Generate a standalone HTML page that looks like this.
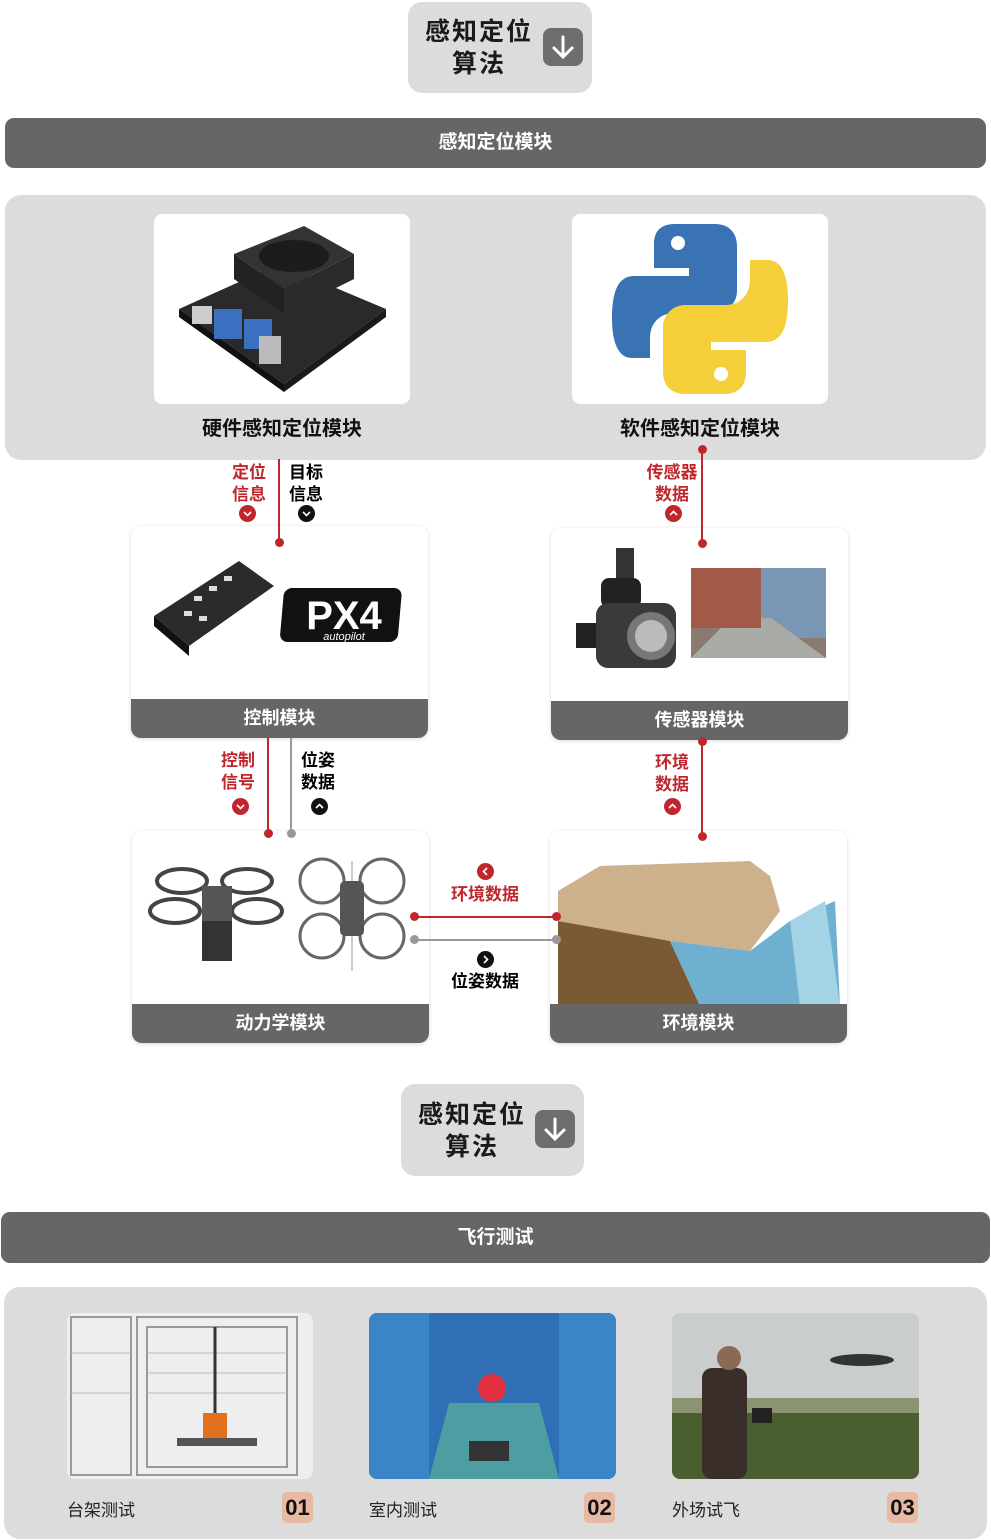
<!DOCTYPE html>
<html><head><meta charset="utf-8"><style>
*{margin:0;padding:0;box-sizing:border-box}
body{width:991px;height:1540px;background:#fff;position:relative;overflow:hidden;font-family:"Liberation Sans","Noto Sans CJK SC",sans-serif}
.a{position:absolute}
.z{z-index:5}
.btn{background:#dcdcdc;border-radius:14px}
.btn .t{position:absolute;font-size:25px;font-weight:bold;line-height:32px;text-align:center;letter-spacing:2px;color:#1a1a1a}
.btn .i{position:absolute;width:40px;height:38px;background:#6e6e6e;border-radius:8px}
.bar{background:#666;border-radius:9px;color:#fff;font-weight:bold;font-size:19px;text-align:center}
.panel{background:#dcdcdc;border-radius:16px}
.card{background:#fff;border-radius:10px;overflow:hidden;box-shadow:0 1px 4px rgba(0,0,0,.15)}
.card .f{position:absolute;left:0;right:0;bottom:0;height:39px;background:#666;color:#fff;font-weight:bold;font-size:18px;line-height:39px;text-align:center}
.lbl{font-size:17px;font-weight:bold;line-height:22px}
.red{color:#c0272d}
.dot{width:9px;height:9px;border-radius:50%}
.cap{font-size:20px;font-weight:bold;text-align:center;color:#111}
.num{width:31px;height:31px;background:#e8b9a3;border-radius:5px;font-size:22px;font-weight:bold;text-align:center;line-height:31px;color:#111}
.pic{border-radius:8px;overflow:hidden}
</style></head><body>

<div class="a btn" style="left:408px;top:2px;width:184px;height:91px">
 <div class="t" style="left:6px;top:14px;width:130px">感知定位<br>算法</div>
 <div class="i" style="left:135px;top:26px"><svg width="40" height="38"><path d="M20 9V28M11 20L20 29L29 20" stroke="#fff" stroke-width="3" fill="none" stroke-linecap="round"/></svg></div>
</div>
<div class="a bar" style="left:5px;top:118px;width:981px;height:50px;line-height:50px">感知定位模块</div>

<div class="a panel" style="left:5px;top:195px;width:981px;height:265px"></div>
<div class="a pic" style="left:154px;top:214px;width:256px;height:190px;background:#fff">
 <svg width="256" height="190"><polygon points="25,95 125,50 232,95 130,170" fill="#2a2a2a"/><polygon points="25,95 130,170 130,178 25,103" fill="#111"/><polygon points="130,170 232,95 232,103 130,178" fill="#1a1a1a"/><polygon points="80,40 150,12 200,40 130,75" fill="#333"/><polygon points="80,40 130,75 130,100 80,65" fill="#222"/><polygon points="130,75 200,40 200,65 130,100" fill="#2b2b2b"/><ellipse cx="140" cy="42" rx="35" ry="16" fill="#1c1c1c"/><rect x="60" y="95" width="28" height="30" fill="#3b6fc0"/><rect x="90" y="105" width="28" height="30" fill="#3b6fc0"/><rect x="105" y="122" width="22" height="28" fill="#bbb"/><rect x="38" y="92" width="20" height="18" fill="#ccc"/></svg>
</div>
<div class="a pic" style="left:572px;top:214px;width:256px;height:190px;background:#fff">
 <svg width="256" height="190"><path d="M103 10h40c15 0 22 10 22 22v45c0 12-10 22-22 22H103c-15 0-25 10-25 25v20H60c-12 0-20-12-20-40 0-30 8-42 22-42h55v-8H82V30c0-14 8-20 21-20z" fill="#3a73b4"/><path d="M153 180h-40c-15 0-22-10-22-22v-45c0-12 10-22 22-22h40c15 0 25-10 25-25V46h18c12 0 20 12 20 40 0 30-8 42-22 42h-55v8h35v22c0 14-8 22-21 22z" fill="#f5cf3a"/><circle cx="106" cy="29" r="7" fill="#fff"/><circle cx="149" cy="160" r="7" fill="#fff"/></svg>
</div>
<div class="a cap" style="left:154px;top:412px;width:256px">硬件感知定位模块</div>
<div class="a cap" style="left:572px;top:412px;width:256px">软件感知定位模块</div>

<div class="a card" style="left:131px;top:526px;width:297px;height:212px">
 <svg class="a" style="left:18px;top:30px" width="260" height="120"><polygon points="5,60 90,5 125,30 40,90" fill="#2b2b2b"/><polygon points="5,60 40,90 40,100 5,70" fill="#111"/><g fill="#ddd"><rect x="45" y="40" width="8" height="5"/><rect x="60" y="30" width="8" height="5"/><rect x="75" y="20" width="8" height="5"/><rect x="35" y="55" width="8" height="5"/><rect x="50" y="60" width="8" height="5"/></g><rect x="138" y="32" width="118" height="54" rx="8" fill="#111" transform="skewX(-5)"/><text x="195" y="73" fill="#fff" font-size="40" font-weight="bold" text-anchor="middle" font-family="Liberation Sans">PX4</text><text x="195" y="84" fill="#fff" font-size="11" text-anchor="middle" font-style="italic" font-family="Liberation Sans">autopilot</text></svg>
 <div class="f">控制模块</div>
</div>
<div class="a card" style="left:551px;top:528px;width:297px;height:212px">
 <svg class="a" style="left:20px;top:20px" width="260" height="130"><rect x="45" y="0" width="18" height="30" fill="#333"/><rect x="30" y="30" width="40" height="30" rx="8" fill="#222"/><rect x="25" y="55" width="80" height="65" rx="12" fill="#3a3a3a"/><circle cx="80" cy="88" r="24" fill="#777"/><circle cx="80" cy="88" r="16" fill="#bbb"/><rect x="5" y="75" width="20" height="25" fill="#222"/><rect x="120" y="20" width="135" height="90" fill="#8a7a70"/><rect x="190" y="20" width="65" height="70" fill="#7a96b5"/><polygon points="120,110 255,110 200,70 160,70" fill="#a9a9a5"/><rect x="120" y="20" width="70" height="60" fill="#a25a48"/></svg>
 <div class="f">传感器模块</div>
</div>
<div class="a card" style="left:132px;top:831px;width:297px;height:212px">
 <svg class="a" style="left:15px;top:25px" width="275" height="130"><g fill="none" stroke="#444" stroke-width="4"><ellipse cx="35" cy="25" rx="25" ry="12"/><ellipse cx="100" cy="25" rx="25" ry="12"/><ellipse cx="28" cy="55" rx="25" ry="12"/><ellipse cx="110" cy="55" rx="25" ry="12"/></g><rect x="55" y="30" width="30" height="35" fill="#555"/><rect x="55" y="65" width="30" height="40" fill="#333"/><g fill="none" stroke="#666" stroke-width="3"><circle cx="175" cy="25" r="22"/><circle cx="235" cy="25" r="22"/><circle cx="175" cy="80" r="22"/><circle cx="235" cy="80" r="22"/></g><line x1="205" y1="5" x2="205" y2="115" stroke="#999"/><rect x="193" y="25" width="24" height="55" rx="5" fill="#555"/></svg>
 <div class="f">动力学模块</div>
</div>
<div class="a card" style="left:550px;top:831px;width:297px;height:212px">
 <svg class="a" style="left:0;top:0" width="297" height="175"><polygon points="8,60 50,35 200,30 220,45 230,80 200,120 120,110 8,90" fill="#cdb08c"/><polygon points="8,90 120,110 150,175 8,175" fill="#7a5a35"/><polygon points="120,110 200,120 240,90 285,70 290,175 150,175" fill="#6fb0d0"/><polygon points="240,90 275,70 290,175 250,175" fill="#a5d3e6"/></svg>
 <div class="f">环境模块</div>
</div>

<!-- connectors row 1 -->
<div class="a z" style="left:278px;top:459px;width:2px;height:83px;background:#c0272d"></div>
<div class="a dot z" style="left:275px;top:538px;background:#c0272d"></div>
<div class="a lbl red" style="left:232px;top:462px">定位<br>信息</div>
<svg class="a" style="left:239px;top:505px" width="17" height="17"><circle cx="8.5" cy="8.5" r="8.5" fill="#c0272d"/><path d="M5 7l3.5 3.5L12 7" stroke="#fff" stroke-width="1.6" fill="none"/></svg>
<div class="a lbl" style="left:289px;top:462px">目标<br>信息</div>
<svg class="a" style="left:298px;top:505px" width="17" height="17"><circle cx="8.5" cy="8.5" r="8.5" fill="#111"/><path d="M5 7l3.5 3.5L12 7" stroke="#fff" stroke-width="1.6" fill="none"/></svg>
<div class="a z" style="left:701px;top:449px;width:2px;height:94px;background:#c0272d"></div>
<div class="a dot z" style="left:698px;top:445px;background:#c0272d"></div>
<div class="a dot z" style="left:698px;top:539px;background:#c0272d"></div>
<div class="a lbl red" style="left:645px;top:462px;text-align:center;width:54px">传感器<br>数据</div>
<svg class="a" style="left:665px;top:505px" width="17" height="17"><circle cx="8.5" cy="8.5" r="8.5" fill="#c0272d"/><path d="M5 10l3.5-3.5L12 10" stroke="#fff" stroke-width="1.6" fill="none"/></svg>

<!-- connectors row 2 -->
<div class="a z" style="left:267px;top:738px;width:2px;height:95px;background:#c0272d"></div>
<div class="a dot z" style="left:264px;top:829px;background:#c0272d"></div>
<div class="a z" style="left:290px;top:738px;width:2px;height:95px;background:#999"></div>
<div class="a dot z" style="left:287px;top:829px;background:#999"></div>
<div class="a lbl red" style="left:221px;top:750px">控制<br>信号</div>
<svg class="a" style="left:232px;top:798px" width="17" height="17"><circle cx="8.5" cy="8.5" r="8.5" fill="#c0272d"/><path d="M5 7l3.5 3.5L12 7" stroke="#fff" stroke-width="1.6" fill="none"/></svg>
<div class="a lbl" style="left:301px;top:750px">位姿<br>数据</div>
<svg class="a" style="left:311px;top:798px" width="17" height="17"><circle cx="8.5" cy="8.5" r="8.5" fill="#111"/><path d="M5 10l3.5-3.5L12 10" stroke="#fff" stroke-width="1.6" fill="none"/></svg>
<div class="a z" style="left:701px;top:741px;width:2px;height:95px;background:#c0272d"></div>
<div class="a dot z" style="left:698px;top:737px;background:#c0272d"></div>
<div class="a dot z" style="left:698px;top:832px;background:#c0272d"></div>
<div class="a lbl red" style="left:655px;top:752px">环境<br>数据</div>
<svg class="a" style="left:664px;top:798px" width="17" height="17"><circle cx="8.5" cy="8.5" r="8.5" fill="#c0272d"/><path d="M5 10l3.5-3.5L12 10" stroke="#fff" stroke-width="1.6" fill="none"/></svg>

<!-- horizontal -->
<div class="a z" style="left:415px;top:916px;width:142px;height:2px;background:#c0272d"></div>
<div class="a dot z" style="left:410px;top:912px;background:#c0272d"></div>
<div class="a dot z" style="left:552px;top:912px;background:#c0272d"></div>
<div class="a z" style="left:415px;top:939px;width:142px;height:2px;background:#999"></div>
<div class="a dot z" style="left:410px;top:935px;background:#999"></div>
<div class="a dot z" style="left:552px;top:935px;background:#999"></div>
<svg class="a" style="left:477px;top:863px" width="17" height="17"><circle cx="8.5" cy="8.5" r="8.5" fill="#c0272d"/><path d="M10 5l-3.5 3.5L10 12" stroke="#fff" stroke-width="1.6" fill="none"/></svg>
<div class="a lbl red" style="left:440px;top:884px;width:90px;text-align:center">环境数据</div>
<svg class="a" style="left:477px;top:951px" width="17" height="17"><circle cx="8.5" cy="8.5" r="8.5" fill="#111"/><path d="M7 5l3.5 3.5L7 12" stroke="#fff" stroke-width="1.6" fill="none"/></svg>
<div class="a lbl" style="left:440px;top:971px;width:90px;text-align:center">位姿数据</div>

<div class="a btn" style="left:401px;top:1084px;width:183px;height:92px">
 <div class="t" style="left:6px;top:15px;width:130px">感知定位<br>算法</div>
 <div class="i" style="left:134px;top:26px"><svg width="40" height="38"><path d="M20 9V28M11 20L20 29L29 20" stroke="#fff" stroke-width="3" fill="none" stroke-linecap="round"/></svg></div>
</div>
<div class="a bar" style="left:1px;top:1212px;width:989px;height:51px;line-height:51px">飞行测试</div>

<div class="a panel" style="left:4px;top:1287px;width:983px;height:252px"></div>
<div class="a pic" style="left:67px;top:1313px;width:246px;height:166px;background:#eee">
 <svg width="246" height="166"><g stroke="#999" stroke-width="2" fill="none"><rect x="4" y="4" width="60" height="158"/><rect x="70" y="4" width="160" height="158"/><rect x="80" y="14" width="140" height="140"/></g><g stroke="#bbb"><line x1="80" y1="40" x2="220" y2="40"/><line x1="80" y1="60" x2="220" y2="60"/><line x1="80" y1="80" x2="220" y2="80"/><line x1="4" y1="40" x2="64" y2="40"/><line x1="4" y1="80" x2="64" y2="80"/></g><line x1="148" y1="14" x2="148" y2="110" stroke="#333" stroke-width="3"/><rect x="136" y="100" width="24" height="26" fill="#e07020"/><rect x="110" y="125" width="80" height="8" fill="#555"/></svg>
</div>
<div class="a pic" style="left:369px;top:1313px;width:247px;height:166px;background:#2f6fb5">
 <svg width="247" height="166"><rect x="0" y="0" width="60" height="166" fill="#3a84c8"/><rect x="190" y="0" width="57" height="166" fill="#3a84c8"/><polygon points="60,166 190,166 170,90 80,90" fill="#4c9ea2"/><circle cx="123" cy="75" r="14" fill="#e23040"/><rect x="100" y="128" width="40" height="20" fill="#333"/></svg>
</div>
<div class="a pic" style="left:672px;top:1313px;width:247px;height:166px;background:#c9cdcd">
 <svg width="247" height="166"><rect x="0" y="95" width="247" height="71" fill="#4b5e30"/><rect x="0" y="85" width="247" height="15" fill="#8a9470"/><rect x="30" y="55" width="45" height="111" rx="10" fill="#3a2e2a"/><circle cx="57" cy="45" r="12" fill="#8a6a55"/><rect x="80" y="95" width="20" height="15" fill="#222"/><ellipse cx="190" cy="47" rx="32" ry="6" fill="#333"/></svg>
</div>
<div class="a" style="left:67px;top:1496px;font-size:17px;color:#222">台架测试</div>
<div class="a" style="left:369px;top:1496px;font-size:17px;color:#222">室内测试</div>
<div class="a" style="left:672px;top:1496px;font-size:17px;color:#222">外场试飞</div>
<div class="a num" style="left:282px;top:1492px">01</div>
<div class="a num" style="left:584px;top:1492px">02</div>
<div class="a num" style="left:887px;top:1492px">03</div>
</body></html>
